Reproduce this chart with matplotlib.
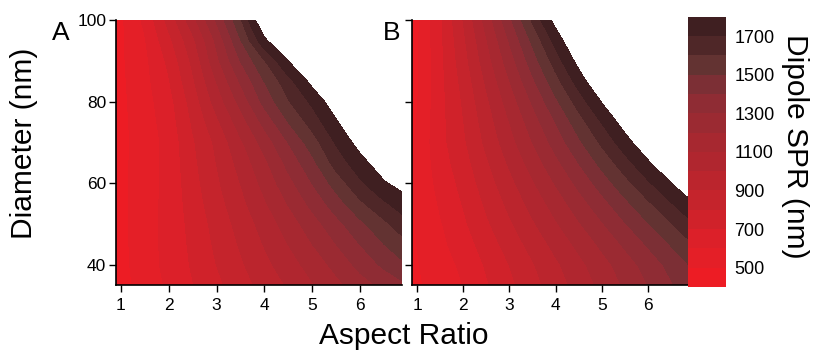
import numpy as np
import matplotlib.pyplot as plt

plt.rcParams['font.family'] = ['Liberation Sans', 'DejaVu Sans']

# valores (filas = diametro, columnas = relacion de aspecto)
aspect_ratio = [0.85, 1.5, 2.0, 2.5, 3.0, 3.5, 4.0, 4.5, 5.0, 5.5, 6.0, 6.5, 7.0]
diameter = [35, 40, 45, 50, 55, 60, 65, 70, 75, 80, 85, 90, 95, 100]

# panel A: simulacion
spr_a = [
    [440, 540, 615, 695, 775, 855, 935, 1010, 1090, 1170, 1255, 1325, 1395],
    [445, 550, 630, 710, 800, 885, 970, 1055, 1140, 1230, 1330, 1420, 1500],
    [445, 555, 630, 720, 818, 910, 1005, 1100, 1198, 1298, 1400, 1498, 1588],
    [445, 560, 630, 730, 835, 935, 1040, 1145, 1255, 1365, 1475, 1575, 1675],
    [448, 558, 628, 745, 858, 968, 1085, 1205, 1328, 1452, 1578, 1683, 1768],
    [450, 555, 625, 760, 880, 1000, 1130, 1265, 1400, 1540, 1680, 1790, 1860],
    [450, 550, 628, 772, 900, 1035, 1175, 1330, 1470, 1640, 1760, 1880, 1990],
    [450, 545, 630, 785, 920, 1080, 1240, 1400, 1550, 1710, 1850, 1990, 2130],
    [450, 552, 645, 810, 975, 1150, 1330, 1500, 1640, 1790, 1940, 2100, 2260],
    [450, 560, 660, 840, 1040, 1230, 1430, 1590, 1720, 1880, 2050, 2220, 2400],
    [452, 568, 690, 880, 1100, 1310, 1500, 1660, 1840, 2020, 2200, 2380, 2560],
    [455, 575, 720, 920, 1170, 1400, 1590, 1805, 2000, 2200, 2400, 2600, 2800],
    [448, 590, 770, 970, 1220, 1490, 1775, 2005, 2225, 2450, 2675, 2900, 3125],
    [440, 620, 830, 1060, 1310, 1580, 1940, 2200, 2450, 2700, 2950, 3200, 3450],
]

# panel B: modelo
spr_b = [
    [470, 540, 600, 688, 775, 863, 950, 1038, 1125, 1213, 1300, 1388, 1475],
    [475, 555, 620, 710, 800, 890, 980, 1070, 1160, 1250, 1340, 1430, 1520],
    [478, 575, 650, 745, 840, 935, 1030, 1125, 1220, 1315, 1410, 1505, 1600],
    [480, 590, 680, 782, 883, 985, 1086, 1188, 1289, 1391, 1492, 1594, 1695],
    [483, 610, 705, 815, 924, 1034, 1143, 1253, 1362, 1472, 1581, 1691, 1800],
    [485, 630, 730, 849, 968, 1087, 1206, 1325, 1444, 1563, 1682, 1801, 1920],
    [478, 650, 755, 884, 1013, 1142, 1271, 1400, 1529, 1658, 1787, 1916, 2045],
    [470, 665, 780, 920, 1059, 1199, 1338, 1478, 1617, 1757, 1896, 2036, 2175],
    [455, 665, 795, 947, 1098, 1250, 1401, 1553, 1704, 1856, 2007, 2159, 2310],
    [440, 665, 810, 977, 1143, 1310, 1476, 1643, 1809, 1976, 2142, 2309, 2475],
    [435, 668, 830, 1013, 1195, 1378, 1560, 1743, 1925, 2108, 2290, 2473, 2655],
    [430, 670, 855, 1053, 1250, 1448, 1645, 1843, 2040, 2238, 2435, 2633, 2830],
    [425, 675, 875, 1090, 1305, 1520, 1735, 1950, 2165, 2380, 2595, 2810, 3025],
    [420, 680, 900, 1137, 1374, 1611, 1848, 2085, 2322, 2559, 2796, 3033, 3270],
]

levels = list(range(400, 1900, 100))
cbar_ticks = [500, 700, 900, 1100, 1300, 1500, 1700]
x_ticks = [1, 2, 3, 4, 5, 6]
y_ticks = [40, 60, 80, 100]

# un color por banda de 100 nm
band_colors = ['#ed1c24', '#e41f27', '#dc2029', '#d0222a', '#c5242c', '#bb252d',
               '#b0262f', '#a72830', '#9b2a32', '#8f2c34', '#7c2f35', '#633332',
               '#4f2728', '#3f1f21']

fig = plt.figure(figsize=(8.13, 3.52), dpi=100)
ax_a = fig.add_axes([0.1427, 0.1903, 0.3518, 0.7527])
ax_b = fig.add_axes([0.5068, 0.1903, 0.3407, 0.7527])
ax_cb = fig.add_axes([0.8463, 0.185, 0.047, 0.767])

X, Y = np.meshgrid(aspect_ratio, diameter)

for ax, datos, xlim in [(ax_a, spr_a, (0.9, 6.875)), (ax_b, spr_b, (0.89, 6.89))]:
    cs = ax.contourf(X, Y, np.array(datos), levels=levels, colors=band_colors)
    cs.set_edgecolor('face')  # evita las lineas blancas entre bandas
    cs.set_linewidth(0.4)
    ax.set_xlim(*xlim)
    ax.set_ylim(35, 100)
    ax.set_xticks(x_ticks)
    ax.set_yticks(y_ticks)
    for lado in ['top', 'right']:
        ax.spines[lado].set_visible(False)
    for lado in ['left', 'bottom']:
        ax.spines[lado].set_linewidth(1.2)
    ax.tick_params(direction='out', length=5, width=1, labelsize=12.5)
    ax.tick_params(axis='x', pad=4)
    ax.tick_params(axis='y', pad=2)

ax_b.set_yticklabels([])

cbar = fig.colorbar(cs, cax=ax_cb, ticks=cbar_ticks)
cbar.outline.set_visible(False)
cbar.ax.tick_params(length=0, labelsize=13, pad=6)

fig.text(0.03, 0.592, 'Diameter (nm)', rotation=90, ha='center', va='center', fontsize=21.5)
fig.text(0.978, 0.585, 'Dipole SPR (nm)', rotation=-90, ha='center', va='center', fontsize=21.5)
fig.text(0.497, 0.045, 'Aspect Ratio', ha='center', va='center', fontsize=21.5)
fig.text(0.075, 0.905, 'A', ha='center', va='center', fontsize=19)
fig.text(0.482, 0.905, 'B', ha='center', va='center', fontsize=19)

fig.savefig('out.png', dpi=100)
